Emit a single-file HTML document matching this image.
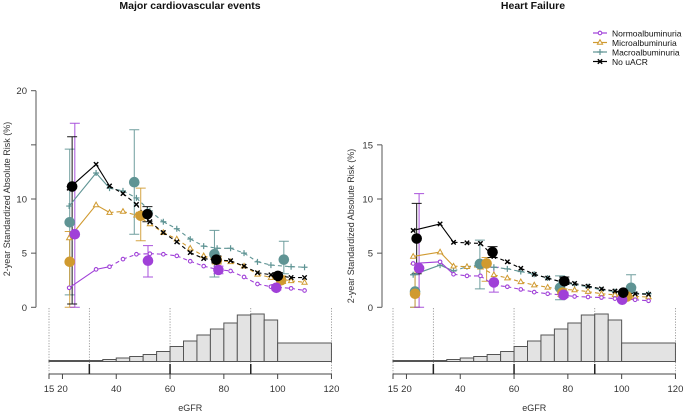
<!DOCTYPE html>
<html><head><meta charset="utf-8">
<style>
html,body{margin:0;padding:0;background:#fff;}
svg{display:block;font-family:"Liberation Sans",Arial,sans-serif;}
</style></head>
<body>
<svg id="chart" width="684" height="412" viewBox="0 0 684 412" xmlns="http://www.w3.org/2000/svg">
<text x="190" y="9" font-size="10.5" font-weight="bold" text-anchor="middle" fill="#111">Major cardiovascular events</text>
<text x="533" y="9" font-size="10.5" font-weight="bold" text-anchor="middle" fill="#111">Heart Failure</text>
<g id="legend"></g>
<g id="p1"></g>
<g id="p2"></g>
</svg>
<script>
// ---- data ----
const egfrGrid = [22.5,32.5,37.5,42.5,47.5,52.5,57.5,62.5,67.5,72.5,77.5,82.5,87.5,92.5,97.5,105,110];
const maceNormo = [1.8,3.5,3.75,4.45,4.9,4.95,4.9,4.75,4.25,3.8,3.5,3.35,2.8,2.15,1.9,1.75,1.55];
const maceMicro = [6.4,9.45,8.75,8.85,8.5,7.7,6.9,6.3,5.45,4.75,4.35,4.2,3.8,3.05,2.75,2.45,2.3];
const maceMacro = [9.35,12.4,11.0,10.75,10.1,8.9,7.9,7.25,6.3,5.65,5.45,5.45,5.0,4.2,3.9,3.75,3.7];
const maceNone  = [11.0,13.2,11.2,10.5,9.5,7.9,6.9,6.05,5.05,4.5,4.35,4.3,3.8,3.2,3.0,2.75,2.75];
const hfNormo = [4.05,4.2,3.05,2.9,2.9,2.05,1.9,1.65,1.4,1.25,1.15,1.0,0.95,0.9,0.8,0.7,0.6];
const hfMicro = [4.7,5.1,3.8,3.75,3.7,3.0,2.7,2.35,2.05,1.85,1.65,1.6,1.45,1.25,1.15,1.0,0.95];
const hfMacro = [3.0,3.9,3.35,3.75,3.9,3.7,3.55,3.3,3.05,2.7,2.35,2.1,1.9,1.6,1.45,1.3,1.25];
const hfNone  = [7.1,7.7,6.0,5.95,5.9,4.7,4.2,3.6,3.05,2.7,2.35,2.2,1.95,1.7,1.5,1.25,1.2];
// category estimates: [egfr, est, lo, hi]
const maceCatNormo = [[24.6,6.75,0,17.0],[51.8,4.3,2.8,5.7],[78,3.45,3.1,3.8],[99.5,1.8,1.6,2.1]];
const maceCatMicro = [[22.7,4.2,0,7.0],[49.1,8.45,6.15,11.0],[77.4,4.35,4.0,4.7],[101.3,2.5,2.2,2.9]];
const maceCatMacro = [[22.7,7.85,1.15,14.6],[46.7,11.55,6.75,16.4],[76.5,4.9,2.8,7.1],[102.3,4.4,3.1,6.1]];
const maceCatNone  = [[23.6,11.15,0.3,15.75],[51.6,8.6,7.9,9.3],[77.2,4.4,4.1,4.75],[100.1,2.9,2.6,3.2]];
const hfCatNormo = [[24.7,3.6,0,10.5],[52.5,2.3,1.4,3.7],[78.4,1.15,0.9,1.4],[100.2,0.7,0.55,0.85]];
const hfCatMicro = [[23.2,1.25,0,4.0],[49.8,4.05,2.4,4.6],[78.0,1.35,1.0,1.7],[102,1.0,0.8,1.2]];
const hfCatMacro = [[23.2,1.45,0,3.0],[47.3,4.0,1.7,6.2],[77.1,1.8,0.7,2.9],[103.5,1.8,1.0,3.0]];
const hfCatNone  = [[23.8,6.35,3.1,9.6],[52,5.1,4.6,5.6],[78.7,2.4,2.1,2.8],[100.6,1.35,1.2,1.5]];
const histEdges = [15,35,40,45,50,55,60,65,70,75,80,85,90,95,100,120];
const histVals  = [1,2,3.5,5,7,10,15,20.5,26.5,32.5,38.5,46.5,47.5,41.5,18.5];
const xTickLabels = [15,20,40,60,80,100,120];
const majorTicks = [30,60,90];
const maceYTicks = [0,5,10,15,20];
const maceYLabels = ["0","5","10","","20"];
const hfYTicks = [0,5,10,15];
const hfYLabels = ["0","5","10","15"];
const legendLabels = ["Normoalbuminuria","Microalbuminuria","Macroalbuminuria","No uACR"];

const COL = {normo:"#a040d8", micro:"#d09a30", macro:"#5f9494", none:"#000"};
const NS = "http://www.w3.org/2000/svg";
function mk(parent, tag, attrs){ const e=document.createElementNS(NS,tag); for(const k in attrs) e.setAttribute(k,attrs[k]); parent.appendChild(e); return e; }

function marker(g, type, x, y, c){
  let e;
  if(type==="normo"){ e=mk(g,"circle",{cx:x,cy:y,r:1.8,fill:"#fff",stroke:c,"stroke-width":1.1}); }
  else if(type==="micro"){ e=mk(g,"path",{d:`M${x},${y-2.8}L${x+2.6},${y+1.8}L${x-2.6},${y+1.8}Z`,fill:"#fff",stroke:c,"stroke-width":1}); }
  else if(type==="macro"){ e=mk(g,"path",{d:`M${x-3},${y}H${x+3}M${x},${y-3}V${y+3}`,stroke:c,"stroke-width":1.2}); }
  else { e=mk(g,"path",{d:`M${x-2.2},${y-2.2}L${x+2.2},${y+2.2}M${x-2.2},${y+2.2}L${x+2.2},${y-2.2}`,stroke:c,"stroke-width":1.4}); }
  
  
}

function drawPanel(g, cfg){
  const X = v => cfg.x0 + (v-15)*2.69;
  const Y = v => 307.3 - v*10.83;
  // y axis
  const ya = mk(g,"line",{x1:cfg.yax,x2:cfg.yax,y1:Y(cfg.yTicks[cfg.yTicks.length-1]),y2:Y(0),stroke:"#555","stroke-width":1});
  
  
  cfg.yTicks.forEach((t,i)=>{
    const tk=mk(g,"line",{x1:cfg.yax-5,x2:cfg.yax,y1:Y(t),y2:Y(t),stroke:"#555"});
    
    
    if(cfg.yLabels[i]){
      const tl=mk(g,"text",{x:cfg.yax-9,y:Y(t)+3.5,"font-size":9.5,"text-anchor":"end",fill:"#333"});
      tl.textContent=cfg.yLabels[i];
      
      
    }
  });
  const yt=mk(g,"text",{x:0,y:0,"font-size":9,"text-anchor":"middle",fill:"#333",transform:`translate(${cfg.ytx},${cfg.ytc}) rotate(-90)`});
  yt.textContent="2-year Standardized Absolute Risk (%)";
  
  
  // dotted verticals
  [15,30,60,90,120].forEach(v=>{
    const l=mk(g,"line",{x1:X(v),x2:X(v),y1:308,y2:374,stroke:"#888","stroke-dasharray":"1.2,1.5","stroke-width":0.8});
    
    
  });
  // histogram
  const base=361.5;
  histVals.forEach((h,i)=>{
    const r=mk(g,"rect",{x:X(histEdges[i]),y:base-h,width:X(histEdges[i+1])-X(histEdges[i]),height:h,fill:"#e3e3e3",stroke:"#555","stroke-width":1});
    
    
  });
  // x axis
  const xa=mk(g,"line",{x1:X(15),x2:X(120),y1:374,y2:374,stroke:"#444"});
  
  
  majorTicks.forEach(v=>{
    const t=mk(g,"line",{x1:X(v),x2:X(v),y1:364,y2:374,stroke:"#222","stroke-width":1.5});
    
    
  });
  xTickLabels.forEach(v=>{
    const t=mk(g,"line",{x1:X(v),x2:X(v),y1:374,y2:379,stroke:"#444"});
    
    
    const tl=mk(g,"text",{x:X(v),y:392,"font-size":9.5,"text-anchor":"middle",fill:"#333"});
    tl.textContent=v;
    
    
  });
  const xt=mk(g,"text",{x:(X(15)+X(120))/2,y:411,"font-size":9,"text-anchor":"middle",fill:"#333"});
  xt.textContent="eGFR";
  
  
  // CIs + big dots
  const order=["macro","micro","normo","none"];
  order.forEach(k=>{
    cfg.cats[k].forEach(p=>{
      const [e,est,lo,hi]=p; const x=X(e);
      const ci=mk(g,"path",{d:`M${x},${Y(lo)}V${Y(hi)}M${x-5},${Y(lo)}H${x+5}M${x-5},${Y(hi)}H${x+5}`,stroke:COL[k],"stroke-width":1,fill:"none",opacity:0.9});
      
      
    });
  });
  // series lines
  order.forEach(k=>{
    const vals=cfg.series[k];
    for(let i=0;i<vals.length-1;i++){
      const l=mk(g,"line",{x1:X(egfrGrid[i]),y1:Y(vals[i]),x2:X(egfrGrid[i+1]),y2:Y(vals[i+1]),stroke:COL[k],"stroke-width":1.1});
      if(i>=2) l.setAttribute("stroke-dasharray","4,3");
      
      
    }
    vals.forEach((v,i)=>marker(g,k,X(egfrGrid[i]),Y(v),COL[k]));
  });
  order.forEach(k=>{
    cfg.cats[k].forEach(p=>{
      const c=mk(g,"circle",{cx:X(p[0]),cy:Y(p[1]),r:5.3,fill:COL[k]});
      
      
    });
  });
}

drawPanel(document.getElementById("p1"),{x0:49,yax:36,ytx:10,ytc:199,yTicks:maceYTicks,yLabels:maceYLabels,
  series:{normo:maceNormo,micro:maceMicro,macro:maceMacro,none:maceNone},
  cats:{normo:maceCatNormo,micro:maceCatMicro,macro:maceCatMacro,none:maceCatNone}});
drawPanel(document.getElementById("p2"),{x0:393,yax:382,ytx:354,ytc:226,yTicks:hfYTicks,yLabels:hfYLabels,
  series:{normo:hfNormo,micro:hfMicro,macro:hfMacro,none:hfNone},
  cats:{normo:hfCatNormo,micro:hfCatMicro,macro:hfCatMacro,none:hfCatNone}});

// legend
const lg=document.getElementById("legend");
["normo","micro","macro","none"].forEach((k,i)=>{
  const y=33+i*9.5;
  const l=mk(lg,"line",{x1:593,x2:607,y1:y,y2:y,stroke:COL[k],"stroke-width":1.2});
  
  
  marker(lg,k,600,y,COL[k]);
  const t=mk(lg,"text",{x:612,y:y+3.3,"font-size":8.5,fill:"#111"});
  t.textContent=legendLabels[i];
  
  
});
</script>
</body></html>
